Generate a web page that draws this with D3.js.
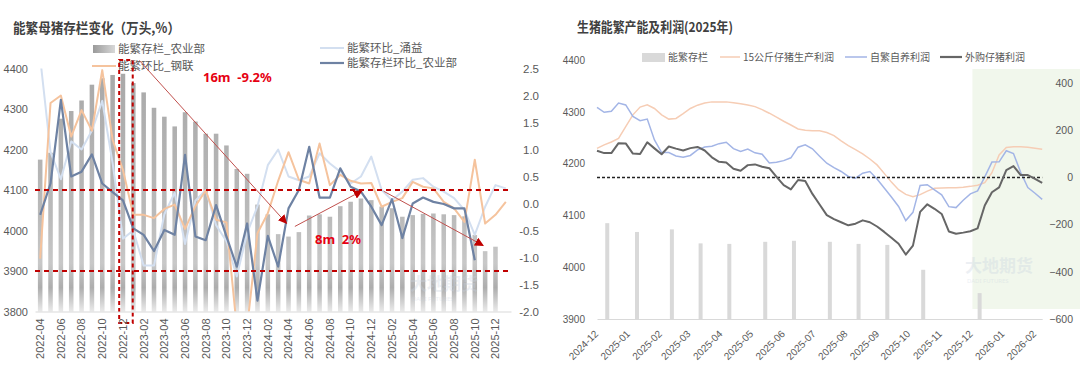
<!DOCTYPE html>
<html>
<head>
<meta charset="utf-8">
<script src="https://cdn.jsdelivr.net/npm/d3@7"></script>
<style>
	body { margin: 0; background: #fff; }
	svg { display: block; font-family: "Noto Sans", "Noto Sans CJK SC", sans-serif; }
	.tick text { fill: #595959; }
</style>
</head>
<body>
<svg id="chart" width="1080" height="370"></svg>
<script>
// ---- left chart: sow inventory & MoM ----
var sowMonths = d3.timeMonth.range(new Date(2022, 3, 1), new Date(2026, 1, 1)).map(d3.timeFormat("%Y-%m"));
var sowStock = [4175, 4192, 4276, 4295, 4321, 4360, 4376, 4384, 4387, 4364,
	4341, 4303, 4281, 4257, 4292, 4269, 4239, 4239, 4210, 4152,
	4140, 4064, 4040, 3991, 3985, 3996, 4037, 4040, 4034, 4060,
	4071, 4079, 4075, 4059, 4055, 4034, 4038, 4041, 4042, 4040,
	4038, 4035, 3989, 3949, 3960, null];
var momMoa = [-0.21, 0.37, 1.92, 0.50, 0.59, 0.91, 0.37, 0.21, 0.06, -0.46,
	-0.58, -0.88, -0.49, -0.58, 0.90, -0.61, -0.68, -0.03, -0.61, -1.17,
	-0.37, -1.80, -0.60, -1.17, -0.09, 0.25, 1.05, 0.11, 0.11, 0.65,
	0.31, 0.22, -0.06, -0.40, 0.08, -0.64, 0.00, 0.11, 0.03, -0.01,
	-0.09, -0.09, -1.05, null, null, null];
var momYongyi = [2.7, 0.95, 0.45, 1.15, 1.0, 1.35, 1.9, 0.75, -0.65, -0.5,
	-1.15, -1.15, -0.2, 0.2, -0.75, 0.05, 0.25, -0.4, -0.7, -1.35,
	-0.55, -0.05, 0.71, 1.0, 0.5, 0.43, 0.5, 0.93, 0.74, 0.59,
	0.37, 0.5, 0.87, 0.25, 0.06, 0.22, 0.44, 0.47, 0.31, 0.22,
	0.1, -0.12, -0.58, -0.06, 0.34, 0.28];
var momMysteel = [-1.02, 1.86, 2.00, 1.24, 1.73, 1.35, 2.47, 1.18, 0.62, -0.21,
	-0.21, -0.27, -0.10, -0.02, -0.47, -0.05, 0.24, -0.30, -0.35, -2.3,
	-2.3, -0.55, -0.18, 0.42, 0.95, 0.44, 0.37, 1.11, 0.34, 0.53,
	0.42, 0.37, 0.38, -0.06, 0.03, 0.10, 0.40, 0.31, 0.28, 0.03,
	-0.09, -0.34, 0.81, -0.37, -0.21, 0.03];
var leftTicks = [3800, 3900, 4000, 4100, 4200, 4300, 4400];
var rightTicks = [-2, -1.5, -1, -0.5, 0, 0.5, 1, 1.5, 2, 2.5];
var guideLevels = [4100, 3900];

// ---- right chart: capacity & profits (weekly) ----
var weekStart = new Date(2024, 11, 1);
var profit15kg = [123, 138, 150, 165, 215, 265, 298, 308, 292, 265,
	247, 250, 270, 292, 306, 315, 320, 320, 320, 316,
	312, 307, 300, 287, 272, 255, 238, 222, 205, 200,
	198, 198, 190, 177, 155, 135, 118, 100, 78, 53,
	17, -20, -52, -72, -82, -73, -58, -46, -45, -44,
	-44, -42, -38, -33, -22, 20, 95, 127, 130, 130,
	128, 124, 119];
var profitSelf = [297, 276, 280, 315, 307, 258, 240, 247, 159, 105,
	105, 91, 85, 93, 117, 129, 132, 143, 149, 122,
	110, 120, 104, 98, 61, 64, 71, 83, 128, 138,
	121, 90, 60, 41, 25, 4, -3, 18, 25, -7,
	-45, -83, -123, -183, -148, -34, -31, -53, -74, -124,
	-128, -97, -70, -57, 2, 65, 66, 113, 101, 22,
	-43, -67, -93];
var profitBuy = [113, 103, 103, 145, 144, 101, 99, 149, 123, 98,
	131, 122, 114, 124, 129, 114, 85, 66, 63, 37,
	28, 52, 55, 45, 39, 2, -33, -51, -11, -15,
	-70, -115, -160, -177, -190, -203, -196, -182, -190, -208,
	-231, -256, -281, -327, -289, -146, -114, -133, -155, -229,
	-239, -234, -228, -216, -119, -63, -42, 31, 48, 10,
	10, -6, -23];
var stockDates = ["2024-12-11", "2025-01-09", "2025-02-12", "2025-03-12", "2025-04-09", "2025-05-14",
	"2025-06-11", "2025-07-16", "2025-08-13", "2025-09-10", "2025-10-15", "2025-12-09"];
var stockValues = [4085, 4068, 4073, 4046, 4045, 4049, 4051, 4049, 4045, 4043, 3995, 3950];
var capTicks = [3900, 4000, 4100, 4200, 4300, 4400];
var profitTicks = [-600, -400, -200, 0, 200, 400];
var shadeFrom = "2025-12-02";

var svg = d3.select("#chart");
var defs = svg.append("defs");
var parseDay = d3.timeParse("%Y-%m-%d");
var red = "#c00000";
var plain = d3.format("d");

var grad = defs.append("linearGradient").attr("id", "barGrad")
	.attr("gradientUnits", "userSpaceOnUse").attr("x1", 0).attr("y1", 68).attr("x2", 0).attr("y2", 312);
[[0, "#a8a8a8"], [0.6, "#bababa"], [0.8, "#c8c8c8"], [0.9, "#adadad"], [1, "#ebebeb"]].forEach(function(s) {
	grad.append("stop").attr("offset", s[0]).attr("stop-color", s[1]);
});
var lg = defs.append("linearGradient").attr("id", "legGrad");
lg.append("stop").attr("offset", 0).attr("stop-color", "#9a9a9a");
lg.append("stop").attr("offset", 1).attr("stop-color", "#d8d8d8");

var mk = defs.append("marker").attr("id", "arrow").attr("viewBox", "0 0 10 10")
	.attr("refX", 9).attr("refY", 5).attr("markerWidth", 9).attr("markerHeight", 9)
	.attr("markerUnits", "userSpaceOnUse").attr("orient", "auto");
mk.append("path").attr("d", "M0,0L10,5L0,10Z").attr("fill", red);

// ================= LEFT =================
var xL = d3.scaleBand().domain(sowMonths).range([35, 511]).paddingInner(0.56).paddingOuter(0.28);
var yL = d3.scaleLinear().domain([3800, 4400]).range([311.5, 68.5]);
var yR = d3.scaleLinear().domain([-2, 2.5]).range([311.5, 68.5]);
var xc = function(m) { return xL(m) + xL.bandwidth() / 2; };

defs.append("clipPath").attr("id", "clipL").append("rect")
	.attr("x", 35).attr("y", 68.5).attr("width", 476).attr("height", 243);

svg.append("text").attr("x", 13).attr("y", 33).attr("textLength", 167).attr("lengthAdjust", "spacingAndGlyphs")
	.style("font", "bold 14px 'Noto Sans CJK SC'").attr("fill", "#404040").text("能繁母猪存栏变化（万头,%）");

// legend (drawn under the plot)
var legL = svg.append("g").style("font", "11.5px 'Noto Sans CJK SC'").attr("fill", "#595959");
legL.append("rect").attr("x", 93).attr("y", 45).attr("width", 22).attr("height", 8).attr("fill", "url(#legGrad)");
legL.append("text").attr("x", 118).attr("y", 53).text("能繁存栏_农业部");
legL.append("line").attr("x1", 92).attr("x2", 116).attr("y1", 66).attr("y2", 66).attr("stroke", "#f5c39d").attr("stroke-width", 2);
legL.append("text").attr("x", 118).attr("y", 70).text("能繁环比_钢联");
legL.append("line").attr("x1", 320).attr("x2", 344).attr("y1", 48).attr("y2", 48).attr("stroke", "#d3dff0").attr("stroke-width", 2);
legL.append("text").attr("x", 347).attr("y", 52).text("能繁环比_涌益");
legL.append("line").attr("x1", 320).attr("x2", 344).attr("y1", 63).attr("y2", 63).attr("stroke", "#6e82a3").attr("stroke-width", 2.2);
legL.append("text").attr("x", 347).attr("y", 67).text("能繁存栏环比_农业部");

var plotL = svg.append("g");
plotL.selectAll(".bar").data(sowMonths.map(function(m, i) { return {m: m, v: sowStock[i]}; }).filter(function(d) { return d.v != null; }))
	.enter().append("rect").attr("class", "bar")
	.attr("x", function(d) { return xL(d.m); })
	.attr("width", xL.bandwidth())
	.attr("y", function(d) { return yL(d.v); })
	.attr("height", function(d) { return yL(3800) - yL(d.v); })
	.attr("fill", "url(#barGrad)");

var lineL = d3.line().defined(function(d) { return d.v != null; })
	.x(function(d) { return xc(d.m); }).y(function(d) { return yR(d.v); });
function seriesL(arr) { return sowMonths.map(function(m, i) { return {m: m, v: arr[i]}; }); }
var linesL = plotL.append("g").attr("clip-path", "url(#clipL)").attr("fill", "none").attr("stroke-linejoin", "round");
linesL.append("path").attr("d", lineL(seriesL(momYongyi))).attr("stroke", "#d3dff0").attr("stroke-width", 2);
linesL.append("path").attr("d", lineL(seriesL(momMysteel))).attr("stroke", "#f5c39d").attr("stroke-width", 2);
linesL.append("path").attr("d", lineL(seriesL(momMoa))).attr("stroke", "#6e82a3").attr("stroke-width", 2.2);

// axes
var axB = svg.append("g").attr("transform", "translate(0,311.5)")
	.call(d3.axisBottom(xL).tickValues(sowMonths.filter(function(d, i) { return i % 2 === 0 && i < 45; })).tickSize(0));
axB.select(".domain").attr("stroke", "#d9d9d9");
axB.selectAll("text").attr("x", -7).attr("y", 0).attr("dy", "0.35em").attr("transform", "rotate(-90)")
	.style("text-anchor", "end").style("font-size", "11px");
var axLL = svg.append("g").attr("transform", "translate(35,0)")
	.call(d3.axisLeft(yL).tickValues(leftTicks).tickFormat(plain).tickSize(0).tickPadding(7));
axLL.select(".domain").remove();
axLL.selectAll("text").style("font-size", "11px");
var axLR = svg.append("g").attr("transform", "translate(511,0)")
	.call(d3.axisRight(yR).tickValues(rightTicks).tickSize(0).tickFormat(function(d) { return d.toFixed(1); }));
axLR.select(".domain").remove();
axLR.selectAll("text").attr("x", 28).style("text-anchor", "end").style("font-size", "11.5px");

// annotations
plotL.selectAll(".guide").data(guideLevels).enter().append("line").attr("class", "guide")
	.attr("x1", 35).attr("x2", 511).attr("y1", function(d) { return yL(d); }).attr("y2", function(d) { return yL(d); })
	.attr("stroke", red).attr("stroke-width", 1.8).attr("stroke-dasharray", "5,4");
plotL.append("rect").attr("x", xL("2022-12") - 1.5).attr("y", 60)
	.attr("width", xL.bandwidth() + 9).attr("height", 263)
	.attr("fill", "none").attr("stroke", red).attr("stroke-width", 2).attr("stroke-dasharray", "4,3");
var arrows = [
	[xc("2023-01") + 6, yL(4420), xc("2024-04") - 2, yL(4018)],
	[xc("2024-05") - 4, yL(4010), xc("2024-11") + 1, yL(4098)],
	[xc("2025-01") + 2, yL(4097), xc("2025-11") - 2, yL(3963)]
];
plotL.selectAll(".arr").data(arrows).enter().append("line").attr("class", "arr")
	.attr("x1", function(d) { return d[0]; }).attr("y1", function(d) { return d[1]; })
	.attr("x2", function(d) { return d[2]; }).attr("y2", function(d) { return d[3]; })
	.attr("stroke", "#c0504d").attr("stroke-width", 1).attr("marker-end", "url(#arrow)");
plotL.append("text").attr("x", 203).attr("y", 82).attr("fill", "#e60012")
	.style("font", "bold 13px 'Noto Sans'").attr("xml:space", "preserve").text("16m  -9.2%");
plotL.append("text").attr("x", 315).attr("y", 244).attr("fill", "#e60012")
	.style("font", "bold 13px 'Noto Sans'").attr("xml:space", "preserve").text("8m  2%");
var wmL = svg.append("g").attr("fill", "#c9d3df").attr("opacity", 0.35);
wmL.append("text").attr("x", 410).attr("y", 290).style("font", "bold 17px 'Noto Sans CJK SC'").text("大地期货");
wmL.append("text").attr("x", 412).attr("y", 301).style("font", "6px 'Noto Sans'").text("DADI FUTURES");

// ================= RIGHT =================
var weeks = profitBuy.map(function(d, i) { return d3.timeDay.offset(weekStart, 7 * i); });
var xR = d3.scaleTime().domain([new Date(2024, 11, 1), new Date(2026, 1, 8)]).range([597, 1042.2]);
var yC = d3.scaleLinear().domain([3900, 4400]).range([319, 60]);
var yP = d3.scaleLinear().domain([-600, 500]).range([319, 59.4]);

svg.append("rect").attr("x", xR(parseDay(shadeFrom))).attr("y", 69).attr("width", 1080 - xR(parseDay(shadeFrom)))
	.attr("height", 240).attr("fill", "#f1f7ec");

svg.append("text").attr("x", 577).attr("y", 32).attr("textLength", 156).attr("lengthAdjust", "spacingAndGlyphs")
	.style("font", "bold 13.5px 'Noto Sans CJK SC'").attr("fill", "#404040").text("生猪能繁产能及利润(2025年)");

var legR = svg.append("g").style("font", "10px 'Noto Sans CJK SC'").attr("fill", "#595959");
legR.append("rect").attr("x", 642).attr("y", 53).attr("width", 23).attr("height", 9).attr("fill", "#d9d9d9");
legR.append("text").attr("x", 668).attr("y", 61).text("能繁存栏");
legR.append("line").attr("x1", 720).attr("x2", 740).attr("y1", 57).attr("y2", 57).attr("stroke", "#f6cdb5").attr("stroke-width", 1.5);
legR.append("text").attr("x", 743).attr("y", 61).text("15公斤仔猪生产利润");
legR.append("line").attr("x1", 845).attr("x2", 867).attr("y1", 57).attr("y2", 57).attr("stroke", "#a3b5e6").attr("stroke-width", 1.5);
legR.append("text").attr("x", 870).attr("y", 61).text("自繁自养利润");
legR.append("line").attr("x1", 940).attr("x2", 962).attr("y1", 57).attr("y2", 57).attr("stroke", "#666").attr("stroke-width", 2.2);
legR.append("text").attr("x", 965).attr("y", 61).text("外购仔猪利润");

var plotR = svg.append("g");
plotR.selectAll(".sbar").data(stockDates.map(function(d, i) { return {d: parseDay(d), v: stockValues[i]}; }))
	.enter().append("rect").attr("class", "sbar")
	.attr("x", function(d) { return xR(d.d) - 2; }).attr("width", 4)
	.attr("y", function(d) { return yC(d.v); })
	.attr("height", function(d) { return yC(3900) - yC(d.v); })
	.attr("fill", "#d9d9d9");

var lineR = d3.line().x(function(d, i) { return xR(weeks[i]); }).y(function(d) { return yP(d); });
plotR.append("path").attr("d", lineR(profit15kg)).attr("fill", "none").attr("stroke", "#f6cdb5").attr("stroke-width", 1.5);
plotR.append("path").attr("d", lineR(profitSelf)).attr("fill", "none").attr("stroke", "#a3b5e6").attr("stroke-width", 1.5);
plotR.append("line").attr("x1", xR(weeks[0])).attr("x2", xR(weeks[weeks.length - 1]))
	.attr("y1", yP(0)).attr("y2", yP(0)).attr("stroke", "#222").attr("stroke-width", 1.5).attr("stroke-dasharray", "3,2");
plotR.append("path").attr("d", lineR(profitBuy)).attr("fill", "none").attr("stroke", "#666").attr("stroke-width", 2)
	.attr("stroke-linejoin", "round");

var axRB = svg.append("g").attr("transform", "translate(0,319)")
	.call(d3.axisBottom(xR).tickValues(d3.timeMonth.range(new Date(2024, 11, 1), new Date(2026, 1, 2)))
		.tickFormat(d3.timeFormat("%Y-%m")).tickSize(0));
axRB.select(".domain").attr("stroke", "#d9d9d9");
axRB.selectAll("text").attr("x", 0).attr("y", 0).attr("dy", "0.35em")
	.attr("transform", "translate(-1,13) rotate(-45)").style("text-anchor", "end").style("font-size", "10px");
var axRL = svg.append("g").attr("transform", "translate(595,0)")
	.call(d3.axisLeft(yC).tickValues(capTicks).tickFormat(plain).tickSize(0).tickPadding(10));
axRL.select(".domain").remove();
axRL.selectAll("text").style("font-size", "10px");
var axRR = svg.append("g").attr("transform", "translate(1042,0)")
	.call(d3.axisRight(yP).tickValues(profitTicks).tickFormat(plain).tickSize(0));
axRR.select(".domain").remove();
axRR.selectAll("text").attr("x", 31).style("text-anchor", "end").style("font-size", "10.5px");

var wmR = svg.append("g").attr("fill", "#c9d3df").attr("opacity", 0.35);
wmR.append("text").attr("x", 965).attr("y", 272).style("font", "bold 17px 'Noto Sans CJK SC'").text("大地期货");
wmR.append("text").attr("x", 967).attr("y", 283).style("font", "6px 'Noto Sans'").text("DADI FUTURES");
</script>
</body>
</html>
